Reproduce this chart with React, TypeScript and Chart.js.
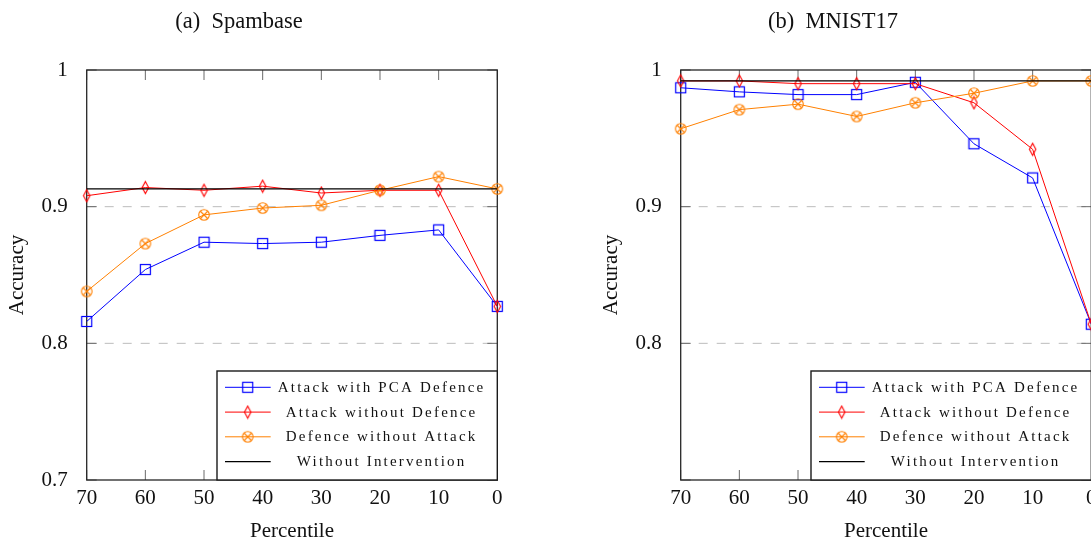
import React, { useEffect, useRef } from 'react';
import { Chart, registerables } from 'chart.js';

Chart.register(...registerables);

// ---------- data ----------
const percentiles = ['70', '60', '50', '40', '30', '20', '10', '0'];
const seriesLabels = [
  'Attack with PCA Defence',
  'Attack without Defence',
  'Defence without Attack',
  'Without Intervention',
];
const yMin = 0.7;
const yMax = 1.0;
const yStep = 0.1;

// (a) Spambase
const spamPca = [0.816, 0.854, 0.874, 0.873, 0.874, 0.879, 0.883, 0.827];
const spamNoDefence = [0.908, 0.914, 0.912, 0.915, 0.910, 0.912, 0.912, 0.827];
const spamDefenceOnly = [0.838, 0.873, 0.894, 0.899, 0.901, 0.912, 0.922, 0.913];
const spamBaseline = [0.913, 0.913, 0.913, 0.913, 0.913, 0.913, 0.913, 0.913];

// (b) MNIST17
const mnistPca = [0.987, 0.984, 0.982, 0.982, 0.991, 0.946, 0.921, 0.814];
const mnistNoDefence = [0.992, 0.992, 0.990, 0.990, 0.990, 0.976, 0.942, 0.814];
const mnistDefenceOnly = [0.957, 0.971, 0.975, 0.966, 0.976, 0.983, 0.992, 0.992];
const mnistBaseline = [0.992, 0.992, 0.992, 0.992, 0.992, 0.992, 0.992, 0.992];

// ---------- styling ----------
const FONT = "'Liberation Serif', 'Times New Roman', serif";
const BLUE = '#0000ff';
const RED = '#ff0000';
const ORANGE = '#ff8000';
const BLACK = '#000000';
const W = 560;
const H = 543;

function makeSquare(color: string) {
  const c = document.createElement('canvas');
  c.width = 13;
  c.height = 13;
  const g = c.getContext('2d')!;
  g.strokeStyle = color;
  g.lineWidth = 1.2;
  g.strokeRect(1.5, 1.5, 10, 10);
  return c;
}
function makeDiamond(color: string) {
  const c = document.createElement('canvas');
  c.width = 9;
  c.height = 15;
  const g = c.getContext('2d')!;
  g.strokeStyle = color;
  g.lineWidth = 1.1;
  g.beginPath();
  g.moveTo(4.5, 1.5);
  g.lineTo(7.7, 7.5);
  g.lineTo(4.5, 13.5);
  g.lineTo(1.3, 7.5);
  g.closePath();
  g.stroke();
  return c;
}
function makeOtimes(color: string) {
  const c = document.createElement('canvas');
  c.width = 14;
  c.height = 14;
  const g = c.getContext('2d')!;
  g.strokeStyle = color;
  g.lineWidth = 1.1;
  const r = 5.3;
  const d = r * Math.SQRT1_2;
  g.beginPath();
  g.arc(7, 7, r, 0, Math.PI * 2);
  g.stroke();
  g.beginPath();
  g.moveTo(7 - d, 7 - d);
  g.lineTo(7 + d, 7 + d);
  g.moveTo(7 + d, 7 - d);
  g.lineTo(7 - d, 7 + d);
  g.stroke();
  return c;
}

type PanelProps = {
  title: string;
  pca: number[];
  noDef: number[];
  defOnly: number[];
  base: number[];
  hideMinLabel: boolean;
};

function ChartPanel(props: PanelProps) {
  const ref = useRef<HTMLCanvasElement | null>(null);

  useEffect(() => {
    const canvas = ref.current;
    if (!canvas) return;
    const sq = makeSquare(BLUE);
    const di = makeDiamond(RED);
    const ot = makeOtimes(ORANGE);
    const markers: (HTMLCanvasElement | null)[] = [sq, di, ot, null];
    const colors = [BLUE, RED, ORANGE, BLACK];

    const framePlugin = {
      id: 'frame',
      beforeDatasetsDraw(chart: any) {
        const { ctx, chartArea: a, scales } = chart;
        const ys = scales.y;
        const xs = scales.x;
        ctx.save();
        // dashed grid
        ctx.strokeStyle = '#bdbdbd';
        ctx.lineWidth = 1;
        ctx.setLineDash([9, 9]);
        ys.ticks.forEach((t: any) => {
          if (t.value <= yMin + 1e-9 || t.value >= yMax - 1e-9) return;
          const y = ys.getPixelForValue(t.value);
          ctx.beginPath();
          ctx.moveTo(a.left, y);
          ctx.lineTo(a.right, y);
          ctx.stroke();
        });
        ctx.setLineDash([]);
        // inward tick marks
        ctx.strokeStyle = '#6a6a6a';
        ctx.lineWidth = 1;
        const tl = 10;
        percentiles.forEach((_, i) => {
          const x = xs.getPixelForValue(i);
          ctx.beginPath();
          ctx.moveTo(x, a.top);
          ctx.lineTo(x, a.top + tl);
          ctx.moveTo(x, a.bottom);
          ctx.lineTo(x, a.bottom - tl);
          ctx.stroke();
        });
        ys.ticks.forEach((t: any) => {
          const y = ys.getPixelForValue(t.value);
          ctx.beginPath();
          ctx.moveTo(a.left, y);
          ctx.lineTo(a.left + tl, y);
          ctx.moveTo(a.right, y);
          ctx.lineTo(a.right - tl, y);
          ctx.stroke();
        });
        // frame
        ctx.strokeStyle = '#262626';
        ctx.lineWidth = 1.3;
        ctx.strokeRect(a.left, a.top, a.right - a.left, a.bottom - a.top);
        ctx.restore();
      },
      afterDatasetsDraw(chart: any) {
        const { ctx, chartArea: a } = chart;
        ctx.save();
        // legend
        const bx = a.right - 280.3;
        const by = a.bottom - 109;
        const bw = a.right - bx;
        const bh = a.bottom - by;
        ctx.fillStyle = '#ffffff';
        ctx.fillRect(bx, by, bw, bh);
        ctx.strokeStyle = '#1a1a1a';
        ctx.lineWidth = 1.4;
        ctx.strokeRect(bx, by, bw, bh);
        const rowY = [16.3, 41.1, 65.8, 90.6];
        seriesLabels.forEach((lab, i) => {
          const y = by + rowY[i];
          ctx.strokeStyle = colors[i];
          ctx.lineWidth = i === 3 ? 1.2 : 1;
          ctx.beginPath();
          ctx.moveTo(bx + 8, y);
          ctx.lineTo(bx + 53.7, y);
          ctx.stroke();
          const m = markers[i];
          if (m) ctx.drawImage(m, bx + 30.7 - m.width / 2, y - m.height / 2);
          ctx.fillStyle = '#111';
          ctx.font = `15px ${FONT}`;
          (ctx as any).letterSpacing = '2.2px';
          ctx.textAlign = 'center';
          ctx.textBaseline = 'middle';
          ctx.fillText(lab, bx + 163.5 + 1.1, y + 0.5);
          (ctx as any).letterSpacing = '0px';
        });
        // texts
        ctx.fillStyle = '#111';
        ctx.font = `22.5px ${FONT}`;
        ctx.textAlign = 'center';
        ctx.textBaseline = 'alphabetic';
        ctx.fillText(props.title, 239, 28);
        ctx.font = `21px ${FONT}`;
        ctx.fillText('Percentile', (a.left + a.right) / 2, 537);
        ctx.save();
        ctx.translate(17.5, (a.top + a.bottom) / 2);
        ctx.rotate(-Math.PI / 2);
        ctx.textBaseline = 'middle';
        ctx.fillText('Accuracy', 0, 0);
        ctx.restore();
        ctx.restore();
      },
    };

    const mk = (i: number, data: number[], order: number) => ({
      label: seriesLabels[i],
      data,
      borderColor: colors[i],
      backgroundColor: colors[i],
      borderWidth: i === 3 ? 1.2 : 1,
      pointStyle: markers[i] || 'circle',
      pointRadius: markers[i] ? 6 : 0,
      pointHoverRadius: markers[i] ? 6 : 0,
      tension: 0,
      clip: false as any,
      order,
    });

    const chart = new Chart(canvas, {
      type: 'line',
      data: {
        labels: percentiles,
        datasets: [
          mk(0, props.pca, 4),
          mk(1, props.noDef, 3),
          mk(2, props.defOnly, 2),
          mk(3, props.base, 1),
        ],
      },
      options: {
        responsive: false,
        animation: false,
        events: [],
        layout: { padding: { top: 70, right: W - 497.3, left: 0, bottom: 0 } },
        plugins: { legend: { display: false }, tooltip: { enabled: false }, title: { display: false } },
        scales: {
          x: {
            type: 'category',
            offset: false,
            grid: { display: false },
            border: { display: false },
            ticks: {
              font: { family: FONT, size: 21 },
              color: '#111',
              padding: -2,
              maxRotation: 0,
              autoSkip: false,
            },
            afterFit: (s: any) => {
              s.height = H - 480;
            },
          },
          y: {
            min: yMin,
            max: yMax,
            grid: { display: false },
            border: { display: false },
            ticks: {
              stepSize: yStep,
              font: { family: FONT, size: 21 },
              color: '#111',
              padding: 11,
              callback: (v: any) => {
                const n = Number(v);
                if (props.hideMinLabel && Math.abs(n - yMin) < 1e-9) return '';
                if (Math.abs(n - 1) < 1e-9) return '1';
                return n.toFixed(1);
              },
            },
            afterFit: (s: any) => {
              s.width = 86.7;
            },
          },
        },
      },
      plugins: [framePlugin],
    } as any);
    return () => chart.destroy();
  }, []);

  return <canvas ref={ref} width={W} height={H} style={{ display: 'block', width: W, height: H }} />;
}

export default function App() {
  return (
    <div
      style={{
        position: 'absolute',
        left: 0,
        top: 0,
        width: 1091,
        height: 543,
        overflow: 'hidden',
        background: '#fff',
      }}
    >
      <div style={{ position: 'absolute', left: 0, top: 0 }}>
        <ChartPanel
          title="(a)  Spambase"
          pca={spamPca}
          noDef={spamNoDefence}
          defOnly={spamDefenceOnly}
          base={spamBaseline}
          hideMinLabel={false}
        />
      </div>
      <div style={{ position: 'absolute', left: 594.3, top: 0 }}>
        <ChartPanel
          title="(b)  MNIST17"
          pca={mnistPca}
          noDef={mnistNoDefence}
          defOnly={mnistDefenceOnly}
          base={mnistBaseline}
          hideMinLabel={true}
        />
      </div>
    </div>
  );
}
